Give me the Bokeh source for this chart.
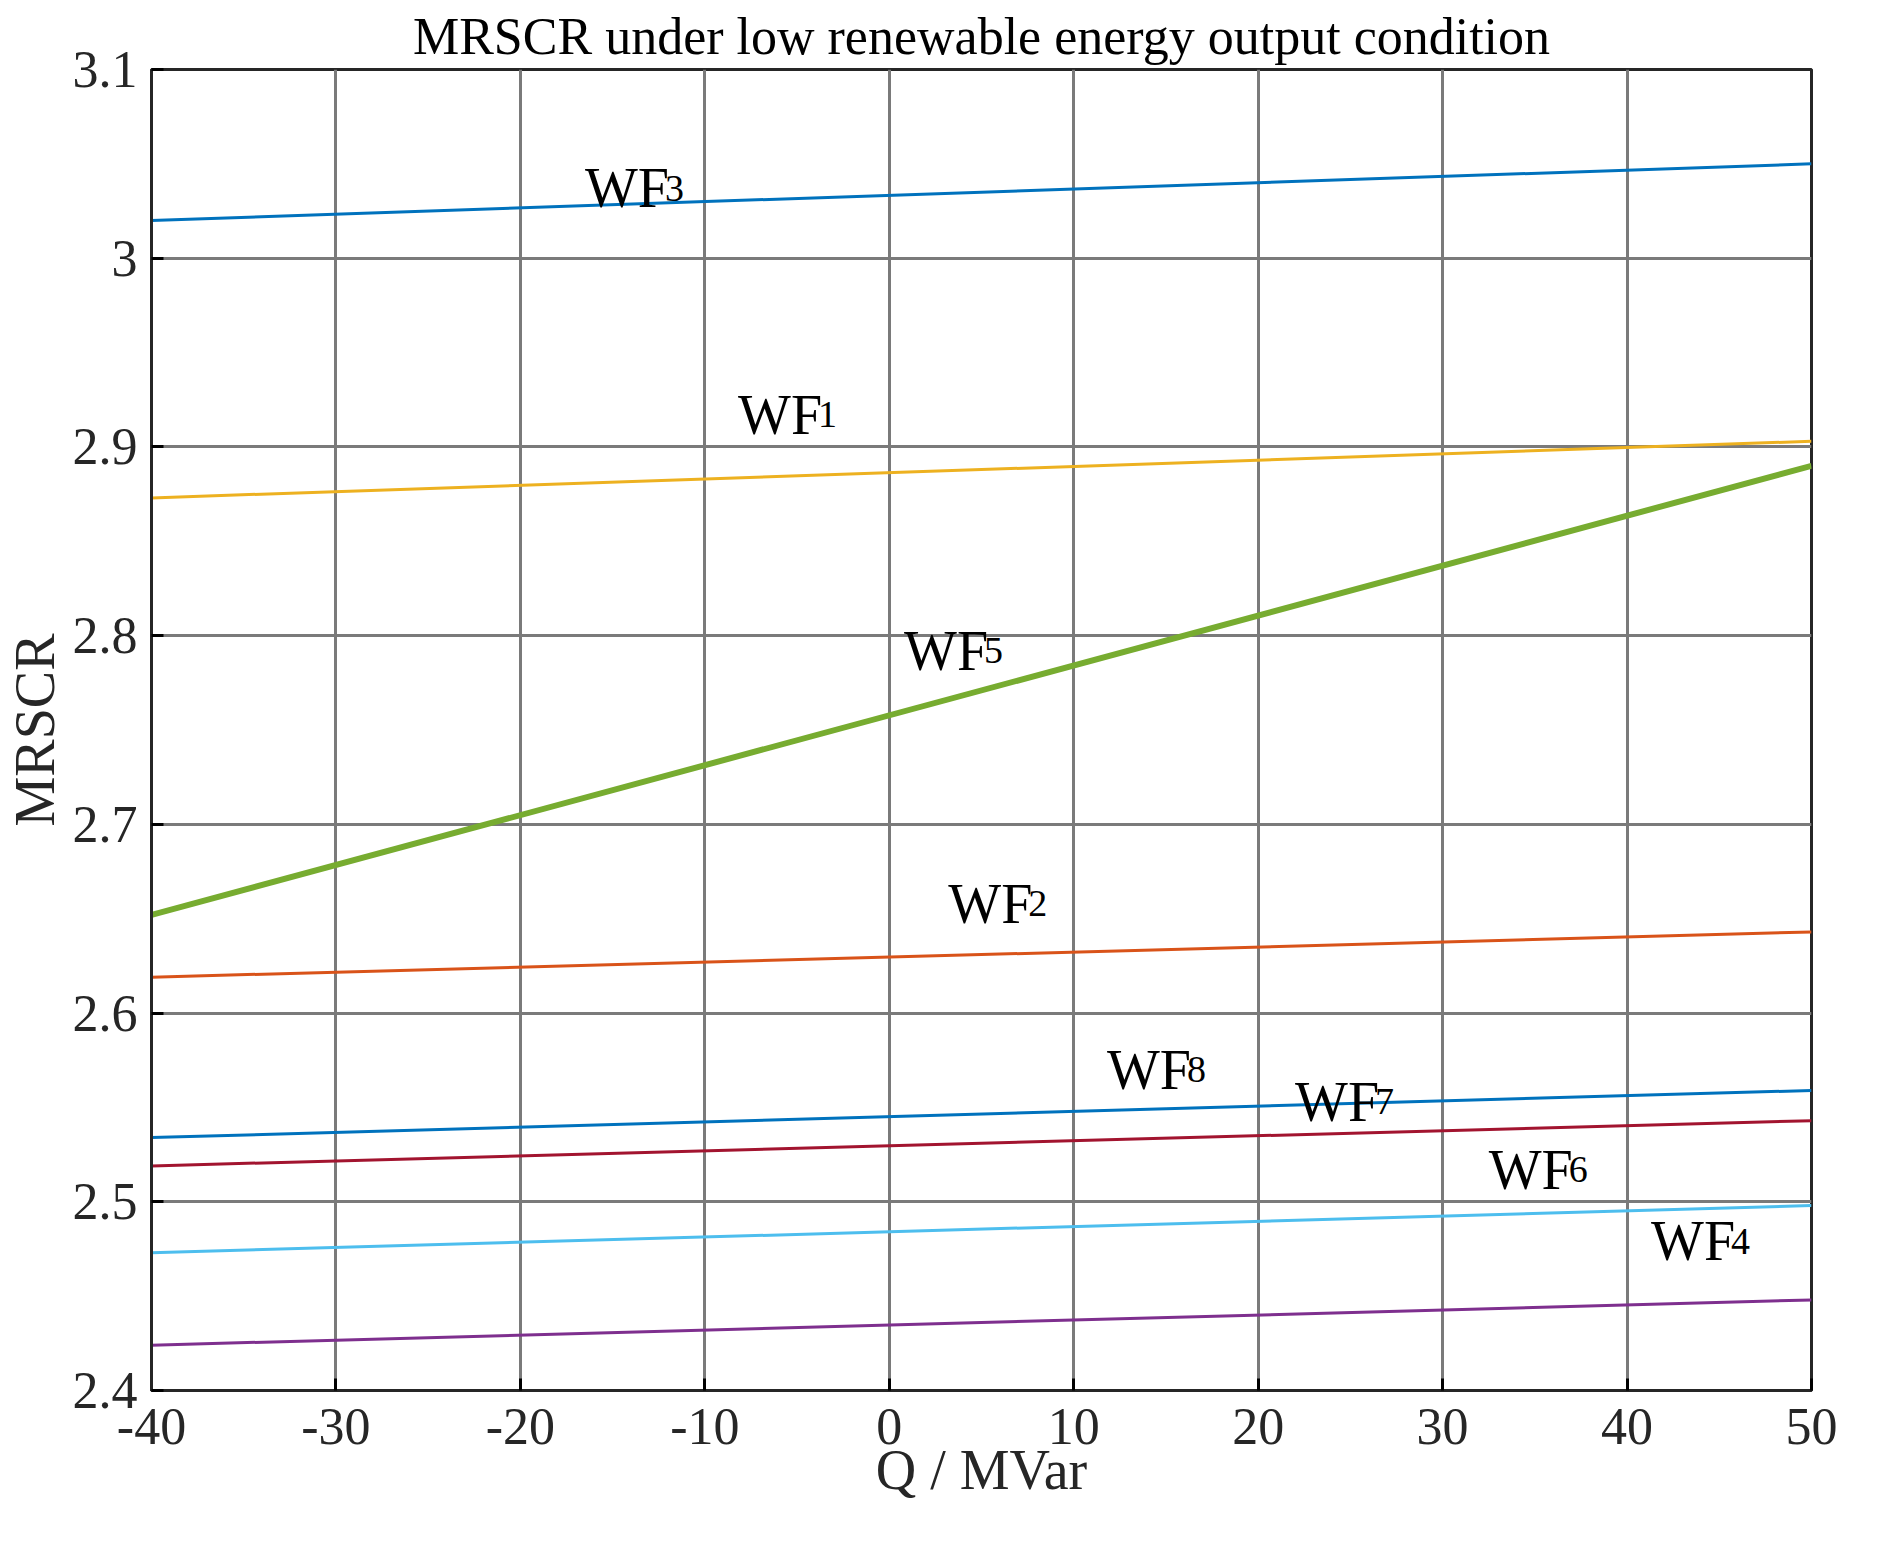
from bokeh.plotting import figure
from bokeh.embed import file_html
from bokeh.resources import INLINE
from bokeh.core.properties import value
from bokeh.models import FixedTicker, Range1d

q_range = [-40, 50]
names = ["3", "1", "5", "2", "8", "7", "6", "4"]
start_vals = [3.020, 2.873, 2.652, 2.619, 2.534, 2.519, 2.473, 2.424]
end_vals = [3.050, 2.903, 2.890, 2.643, 2.559, 2.543, 2.498, 2.448]
colors = ["#0072BD", "#EDB120", "#77AC30", "#D95319", "#0072BD", "#A2142F", "#4DBEEE", "#7E2F8E"]
widths = [3, 3, 6, 3, 3, 3, 3, 3]
label_x = [-16.5, -8.2, 0.8, 3.2, 11.8, 22.0, 32.5, 41.3]
label_y = [3.037, 2.917, 2.792, 2.658, 2.570, 2.553, 2.517, 2.479]
x_ticks = list(range(-40, 51, 10))
x_tick_labels = {t: str(t) for t in x_ticks}

F = "Liberation Serif"
p = figure(width=1868, height=1540, output_backend="svg", toolbar_location=None,
           x_range=Range1d(-40, 50), y_range=Range1d(2.4, 3.1),
           min_border_left=146, min_border_right=57, min_border_top=62, min_border_bottom=150)
p.title.text = "MRSCR under low renewable energy output condition"
p.title.align = "center"
p.title.text_font = F
p.title.text_font_size = "52px"
p.title.text_font_style = "normal"
p.title.text_color = "black"
p.title.offset = 0

for i in range(len(names)):
    p.line(q_range, [start_vals[i], end_vals[i]], line_color=colors[i], line_width=widths[i])
    p.text([label_x[i]], [label_y[i]], text=["WF"], text_font=value(F), text_font_size="56px",
           text_baseline="alphabetic", text_align="left", text_color="black")
    p.text([label_x[i]], [label_y[i]], text=[names[i]], text_font=value(F), text_font_size="38px",
           text_baseline="alphabetic", text_align="left", x_offset=80, text_color="black")

p.xaxis.ticker = FixedTicker(ticks=x_ticks)
p.xaxis.major_label_overrides = x_tick_labels
p.yaxis.ticker = FixedTicker(ticks=[2.4, 2.5, 2.6, 2.7, 2.8, 2.9, 3.0, 3.1])
for ax in (p.xaxis, p.yaxis):
    ax.major_label_text_font = F
    ax.major_label_text_font_size = "52px"
    ax.major_label_text_color = "#262626"
    ax.axis_label_text_font = F
    ax.axis_label_text_font_size = "56px"
    ax.axis_label_text_font_style = "normal"
    ax.axis_label_text_color = "#262626"
    ax.axis_line_width = 3
    ax.axis_line_color = "#262626"
    ax.major_tick_in = 12
    ax.major_tick_out = 0
    ax.major_tick_line_width = 3
    ax.minor_tick_line_color = None
p.xaxis.major_label_standoff = 18
p.yaxis.major_label_standoff = 14
p.xaxis.axis_label = "Q / MVar"
p.yaxis.axis_label = "MRSCR"
p.xaxis.axis_label_standoff = -8
p.yaxis.axis_label_standoff = 4
p.grid.grid_line_color = "#7a7a7a"
p.grid.grid_line_width = 3
p.outline_line_color = "#262626"
p.outline_line_width = 3

open("out.html", "w").write(file_html(p, INLINE))
